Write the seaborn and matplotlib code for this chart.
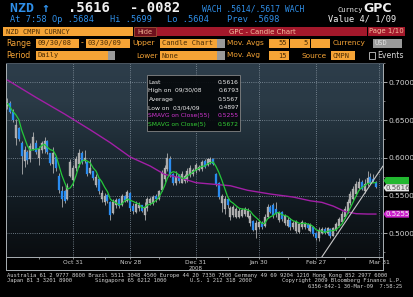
import numpy as np
import pandas as pd
import matplotlib
matplotlib.use("Agg")
import matplotlib.pyplot as plt
import seaborn as sns
import matplotlib.transforms as mtransforms
from matplotlib.patches import Rectangle, Polygon
from matplotlib.lines import Line2D
from matplotlib.colors import LinearSegmentedColormap

# ---------------- data ----------------
opens = [.668,.672,.661,.626,.640,.620,.596,.608,.598,.612,
         .620,.600,.610,.612,.622,.606,.592,.601,.576,.556,
         .556,.545,.576,.570,.586,.592,.606,.596,.594,.580,
         .582,.564,.572,.545,.541,.551,.541,.527,.538,.545,
         .538,.549,.543,.553,.536,.528,.533,.537,.524,.533,
         .540,.540,.550,.545,.558,.572,.585,.598,.578,.566,
         .577,.567,.569,.572,.577,.578,.582,.584,.585,.596,
         .590,.594,.598,.578,.566,.540,.532,.545,.522,.524,
         .522,.522,.523,.525,.522,.513,.516,.504,.508,.514,
         .510,.522,.535,.537,.532,.518,.528,.513,.510,.518,
         .508,.503,.502,.508,.508,.512,.503,.508,.500,.494,
         .501,.506,.500,.506,.497,.505,.510,.515,.522,.530,
         .540,.546,.552,.560,.568,.556,.566,.575,.572,.5684]
highs = [.6793,.675,.664,.651,.641,.622,.615,.610,.620,.634,
         .624,.615,.622,.627,.624,.607,.614,.602,.580,.562,
         .558,.567,.598,.590,.602,.612,.609,.610,.596,.598,
         .583,.578,.573,.558,.553,.552,.543,.546,.547,.547,
         .552,.551,.558,.555,.540,.543,.542,.538,.542,.548,
         .548,.551,.552,.558,.584,.590,.607,.602,.580,.582,
         .579,.582,.579,.586,.590,.586,.593,.590,.597,.598,
         .600,.601,.600,.580,.568,.552,.549,.547,.536,.538,
         .535,.534,.533,.535,.533,.527,.518,.517,.518,.516,
         .525,.539,.537,.540,.541,.530,.530,.526,.521,.520,
         .516,.518,.514,.518,.515,.514,.514,.510,.502,.508,
         .509,.508,.509,.507,.509,.515,.522,.529,.536,.545,
         .556,.563,.569,.573,.571,.572,.583,.580,.578,.5699]
lows = [.664,.659,.648,.617,.622,.578,.588,.592,.594,.610,
        .605,.590,.606,.606,.605,.590,.580,.583,.553,.535,
        .540,.544,.574,.562,.583,.588,.592,.593,.576,.578,
        .570,.561,.552,.542,.538,.540,.518,.525,.534,.533,
        .536,.541,.541,.530,.526,.527,.530,.528,.518,.530,
        .538,.538,.542,.544,.556,.568,.582,.574,.564,.564,
        .566,.566,.567,.568,.575,.576,.580,.583,.583,.586,
        .589,.592,.590,.562,.545,.528,.526,.534,.517,.522,
        .520,.520,.522,.523,.520,.510,.503,.494,.506,.506,
        .508,.520,.527,.520,.522,.515,.516,.511,.508,.505,
        .506,.501,.500,.506,.506,.505,.502,.497,.4915,.4897,
        .499,.499,.498,.494,.496,.503,.508,.513,.520,.527,
        .538,.544,.550,.558,.557,.554,.563,.565,.568,.5604]
closes = [.672,.661,.650,.644,.625,.603,.610,.597,.615,.628,
          .608,.612,.619,.622,.608,.593,.606,.586,.557,.545,
          .543,.562,.594,.586,.598,.606,.595,.600,.579,.586,
          .573,.574,.556,.553,.550,.543,.524,.541,.544,.536,
          .549,.544,.555,.534,.529,.539,.538,.530,.535,.545,
          .545,.548,.545,.556,.580,.586,.600,.576,.566,.575,
          .569,.578,.576,.583,.587,.584,.590,.588,.595,.588,
          .598,.599,.592,.565,.548,.549,.545,.537,.533,.535,
          .532,.530,.531,.532,.530,.523,.505,.514,.515,.509,
          .522,.535,.528,.524,.525,.527,.519,.523,.518,.508,
          .514,.515,.512,.515,.512,.507,.511,.499,.494,.505,
          .506,.501,.507,.497,.507,.512,.519,.526,.532,.541,
          .552,.559,.565,.568,.559,.565,.573,.567,.5698,.5616]

sma55_day = [0, 10, 20, 29, 36, 43, 50, 55, 60, 66, 72, 78, 84, 92, 100, 106, 110, 114, 118, 122, 126, 129]
sma55_val = [0.703, 0.680, 0.658, 0.637, 0.620, 0.601, 0.589, 0.578, 0.574, 0.567, 0.565, 0.563,
             0.557, 0.552, 0.548, 0.543, 0.541, 0.536, 0.529, 0.526, 0.5255, 0.5255]

trend_day = [110.0, 131.4]
trend_val = [0.4686, 0.5892]

date_ticks = [23, 43, 66, 88, 108, 130]
date_labels = ["Oct 31", "Nov 28", "Dec 31", "Jan 30", "Feb 27", "Mar 31"]
minor_date_ticks = [11, 34, 53, 77, 98, 118]

price_ticks = [0.50, 0.55, 0.60, 0.65, 0.70]

legend_names = ["Last", "High on  09/30/08", "Average", "Low on  03/04/09",
                "SMAVG on Close(55)", "SMAVG on Close(5)"]
legend_values = ["0.5616", "0.6793", "0.5567", "0.4897", "0.5255", "0.5672"]

# ---------------- style ----------------
sns.set_theme(style="dark")
plt.rcParams["font.family"] = ["DejaVu Sans"]

W, H = 414, 297
fig = plt.figure(figsize=(W / 100, H / 100), dpi=100, facecolor="black")

def fx(x):
    return x / W

def fy(y):
    return 1 - y / H

def frect(x0, y0, x1, y1, fc, ec="none", lw=0.0, z=1, alpha=1.0):
    fig.add_artist(Rectangle((fx(x0), fy(y1)), (x1 - x0) / W, (y1 - y0) / H,
                             transform=fig.transFigure, facecolor=fc, edgecolor=ec,
                             linewidth=lw, zorder=z, alpha=alpha))

def ftext(x, y, s, color, size, ha="left", weight="normal", mono=True, z=3):
    fam = ["DejaVu Sans Mono", "DejaVu Sans"] if mono else ["DejaVu Sans"]
    fig.text(fx(x), fy(y), s, color=color, fontsize=size, ha=ha, va="center",
             fontweight=weight, family=fam, zorder=z)

BLUE = "#2f8fe8"
ORANGE = "#f6a436"
DARK = "#4a2c05"
WHITE = "#f0f0f0"
GRAYF = "#9a9a9a"

# ---------------- header ----------------
ftext(10, 8.5, "NZD \u2191", BLUE, 9.5, weight="bold")
ftext(68, 8.5, ".5616", WHITE, 10, weight="bold")
ftext(130, 8.5, "-.0082", WHITE, 10, weight="bold")
ftext(202, 9, "WACH .5614/.5617 WACH", BLUE, 5.8)
ftext(338, 10, "Curncy", WHITE, 5.0)
ftext(363, 8.5, "GPC", WHITE, 9, weight="bold", mono=False)

ftext(10, 19.5, "At 7:58 Op .5684", BLUE, 6.2)
ftext(110, 19.5, "Hi .5699", BLUE, 6.2)
ftext(167, 19.5, "Lo .5604", BLUE, 6.2)
ftext(227, 19.5, "Prev .5698", BLUE, 6.2)
ftext(328, 19.5, "Value 4/ 1/09", WHITE, 6.2)

frect(3, 27, 133, 36, ORANGE)
ftext(6, 31.5, "NZD CMPN CURNCY", DARK, 5.0)
frect(134, 27, 156, 36, "#6e0f1c", ec="#c06040", lw=0.5)
ftext(145, 31.5, "Hide", "#f0b090", 4.8, ha="center", mono=False)
frect(157, 27, 367, 36, "#a3182b")
ftext(262, 31.5, "GPC - Candle Chart", "#f6c0a0", 5.0, ha="center", mono=False)
frect(368, 27, 405, 36, "#a3182b")
ftext(386.5, 31.5, "Page 1/10", "#f6c0a0", 5.0, ha="center", mono=False)

ftext(6, 43, "Range", ORANGE, 5.6, mono=False)
frect(36, 38.5, 79, 47.5, ORANGE)
ftext(38, 43, "09/30/08", DARK, 5.0)
ftext(80.5, 43, "-", ORANGE, 5.6, mono=False)
frect(86, 38.5, 130, 47.5, ORANGE)
ftext(88, 43, "03/30/09", DARK, 5.0)
ftext(132, 43, "Upper", ORANGE, 5.4, mono=False)
frect(160, 38.5, 217, 47.5, ORANGE)
ftext(162, 43, "Candle Chart", DARK, 5.0)
frect(217, 38.5, 225, 47.5, GRAYF)
ftext(227, 43, "Mov. Avgs", ORANGE, 5.3, mono=False)
frect(269, 38.5, 289, 47.5, ORANGE)
ftext(287, 43, "55", DARK, 5.0, ha="right")
frect(290.5, 38.5, 310, 47.5, ORANGE)
ftext(308, 43, "5", DARK, 5.0, ha="right")
frect(311.5, 38.5, 330, 47.5, ORANGE)
ftext(333, 43, "Currency", ORANGE, 5.3, mono=False)
frect(373, 38.5, 402, 47.5, GRAYF)
ftext(375, 43, "USD", "#e0e0e0", 5.0)

ftext(6, 55.5, "Period", ORANGE, 5.6, mono=False)
frect(36, 51, 108, 60, ORANGE)
ftext(38, 55.5, "Daily", DARK, 5.0)
frect(108, 51, 115, 60, GRAYF)
ftext(136, 55.5, "Lower", ORANGE, 5.2, mono=False)
frect(160, 51, 217, 60, ORANGE)
ftext(162, 55.5, "None", DARK, 5.0)
frect(217, 51, 225, 60, GRAYF)
ftext(227, 55.5, "Mov. Avg", ORANGE, 5.3, mono=False)
frect(269, 51, 289, 60, ORANGE)
ftext(287, 55.5, "15", DARK, 5.0, ha="right")
ftext(302, 55.5, "Source", ORANGE, 5.3, mono=False)
frect(331, 51, 355, 60, ORANGE)
ftext(333, 55.5, "CMPN", DARK, 5.0)
frect(369, 52.5, 375, 58.5, "none", ec="#c8c8c8", lw=0.6)
ftext(377, 55.5, "Events", "#d8d8d8", 5.6, mono=False)

# ---------------- chart ----------------
x0, x1 = -0.5, 131.4
y0, y1 = 0.4686, 0.7256
ax = fig.add_axes([fx(6), fy(257), (383 - 6) / W, (257 - 63) / H])
ax.set_xlim(x0, x1)
ax.set_ylim(y0, y1)

cmap = LinearSegmentedColormap.from_list(
    "bg", ["#0a0d10", "#0f161b", "#16212a", "#1f2d37", "#2a3a46", "#2d3d4a"])
ax.imshow(np.linspace(0, 1, 256).reshape(-1, 1), extent=[x0, x1, y0, y1],
          origin="lower", aspect="auto", cmap=cmap, zorder=0)

for v in price_ticks:
    ax.axhline(v, color="#8a98a4", lw=0.6, ls=(0, (1, 1.6)), zorder=1)
for d in date_ticks:
    ax.axvline(d, color="#8a98a4", lw=0.6, ls=(0, (1, 1.6)), zorder=1)

df = pd.DataFrame({"day": np.arange(len(closes)), "open": opens, "high": highs,
                   "low": lows, "close": closes})
df["sma5"] = df["close"].rolling(5, min_periods=1).mean()

up = df["close"] >= df["open"]
ax.vlines(df["day"], df["low"], df["high"], color="#bcbcbc", lw=0.55, zorder=2)
body = (df["close"] - df["open"]).abs().clip(lower=0.0008)
bottom = df[["open", "close"]].min(axis=1)
ax.bar(df["day"][up], body[up], bottom=bottom[up], width=0.7, color="#a8a8a8",
       edgecolor="#d0d0d0", linewidth=0.2, zorder=3)
ax.bar(df["day"][~up], body[~up], bottom=bottom[~up], width=0.7, color="#2a8cf0",
       edgecolor="#2a8cf0", linewidth=0.2, zorder=3)

sma55 = pd.DataFrame({"day": sma55_day, "val": sma55_val})
sns.lineplot(data=sma55, x="day", y="val", ax=ax, color="#a21fa6", lw=1.0, zorder=4)
sns.lineplot(data=df, x="day", y="sma5", ax=ax, color="#24c83a", lw=0.9, zorder=5)
ax.plot(trend_day, trend_val, color="#c8c8c8", lw=0.8, zorder=6)

ax.set_xlabel("")
ax.set_ylabel("")
ax.yaxis.tick_right()
ax.set_yticks(price_ticks)
ax.set_yticklabels([f"{v:.4f}" for v in price_ticks])
ax.set_yticks([0.475, 0.525, 0.575, 0.625, 0.675, 0.725], minor=True)
ax.tick_params(axis="y", which="major", length=3, width=0.6, color="#c0c0c0",
               labelsize=5.4, labelcolor="#d4d4d4", pad=1, right=True, left=False)
ax.tick_params(axis="y", which="minor", length=1.5, width=0.5, color="#a0a0a0",
               right=True, left=False)
ax.set_xticks(date_ticks)
ax.set_xticklabels(date_labels)
ax.set_xticks(minor_date_ticks, minor=True)
ax.tick_params(axis="x", which="major", length=1.5, width=0.5, color="#c0c0c0",
               labelsize=4.3, labelcolor="#d0d0d0", pad=0.8, bottom=True)
ax.tick_params(axis="x", which="minor", length=1.5, width=0.5, color="#c0c0c0",
               bottom=True)
ax.grid(False)
for side, sp in ax.spines.items():
    sp.set_color("#aab0b4")
    sp.set_linewidth(0.7)
ax.spines["top"].set_color("#4a5560")

blend = mtransforms.blended_transform_factory(ax.transData, ax.transAxes)
ax.text(66, -0.057, "2008", transform=blend, ha="center", va="center",
        fontsize=4.0, color="#d0d0d0")

# frame continuation below the date axis
for (xa, ya, xb, yb) in [(6, 257, 6, 270), (383, 257, 383, 270), (6, 270, 383, 270)]:
    fig.add_artist(Line2D([fx(xa), fx(xb)], [fy(ya), fy(yb)], transform=fig.transFigure,
                          color="#aab0b4", lw=0.7))

# value flags on the right
bt = mtransforms.blended_transform_factory(ax.transAxes, ax.transData)
pxw = 1.0 / 377
pxh = (y1 - y0) / 194
flags = [(0.5672, 2.0, "#22b830", None, None),
         (0.5616, -1.0, "#e6e6e6", "0.5616", "#505050"),
         (0.5255, 0.0, "#cc22cc", "0.5255", "#f4f4f4")]
for val, off, fc, txt, tc in flags:
    c = val + off * pxh
    h = 3.6 * pxh
    pts = [(1 + 0.5 * pxw, c), (1 + 3 * pxw, c + h), (1 + 26 * pxw, c + h),
           (1 + 26 * pxw, c - h), (1 + 3 * pxw, c - h)]
    ax.add_patch(Polygon(pts, closed=True, transform=bt, facecolor=fc,
                         edgecolor="none", clip_on=False, zorder=8))
    if txt:
        ax.text(1 + 15 * pxw, c, txt, transform=bt, ha="center", va="center",
                fontsize=5.0, color=tc, zorder=9, clip_on=False)

# legend box
frect(146.7, 75, 240.5, 131, "#05080b", ec="#8e8e8e", lw=0.6, z=5, alpha=0.92)
row_y = [82.3, 90.7, 99.1, 107.5, 115.9, 124.3]
row_c = ["#ececec", "#ececec", "#ececec", "#ececec", "#d235d2", "#35d235"]
for yy, name, val, col in zip(row_y, legend_names, legend_values, row_c):
    ftext(148.5, yy, name, col, 4.3, mono=False, z=6)
    ftext(239, yy, val, col, 4.3, ha="right", mono=False, z=6)

# footer
FC = "#cfcfcf"
ftext(7, 275, "Australia 61 2 9777 8600 Brazil 5511 3048 4500 Europe 44 20 7330 7500 "
      "Germany 49 69 9204 1210 Hong Kong 852 2977 6000", FC, 4.0)
ftext(7, 280.5, "Japan 81 3 3201 8900", FC, 4.0)
ftext(95, 280.5, "Singapore 65 6212 1000", FC, 4.0)
ftext(190, 280.5, "U.S. 1 212 318 2000", FC, 4.0)
ftext(402, 280.5, "Copyright 2009 Bloomberg Finance L.P.", FC, 4.0, ha="right")
ftext(402, 286, "6356-842-1 30-Mar-09  7:58:25", FC, 4.0, ha="right")

fig.savefig("out.png", dpi=100, facecolor="black")
